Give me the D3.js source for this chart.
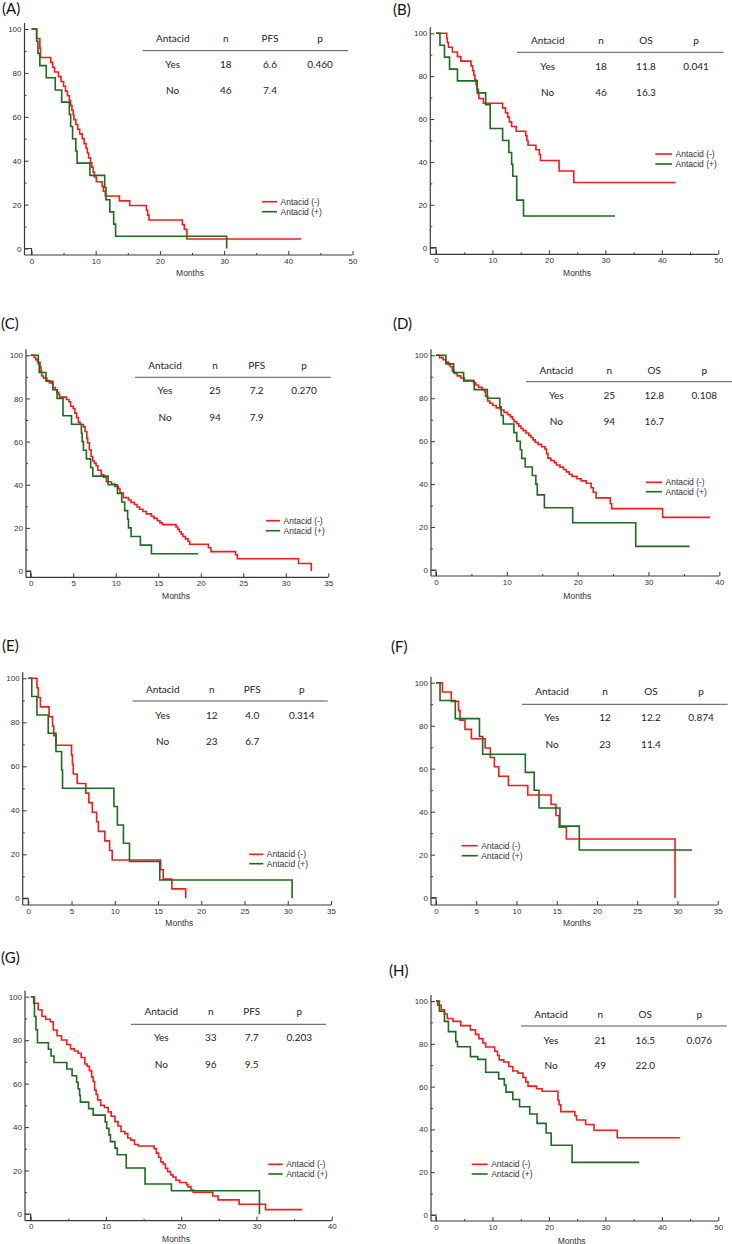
<!DOCTYPE html>
<html><head><meta charset="utf-8">
<script src="https://cdn.jsdelivr.net/npm/d3@7"></script>
<style>body{margin:0;background:#fff}svg{display:block}</style>
</head><body>
<svg id="chart" width="732" height="1244"></svg>
<script>
// ---------------- DATA ----------------
const panelLabels = ["(A)","(B)","(C)","(D)","(E)","(F)","(G)","(H)"];
const metrics = ["PFS","OS","PFS","OS","PFS","OS","PFS","OS"];
const headerCols = ["Antacid","n","METRIC","p"];
const yesRows = [
  ["Yes","18","6.6","0.460"],["Yes","18","11.8","0.041"],
  ["Yes","25","7.2","0.270"],["Yes","25","12.8","0.108"],
  ["Yes","12","4.0","0.314"],["Yes","12","12.2","0.874"],
  ["Yes","33","7.7","0.203"],["Yes","21","16.5","0.076"]];
const noRows = [
  ["No","46","7.4",""],["No","46","16.3",""],
  ["No","94","7.9",""],["No","94","16.7",""],
  ["No","23","6.7",""],["No","23","11.4",""],
  ["No","96","9.5",""],["No","49","22.0",""]];
const xMax = [50,50,35,40,35,35,40,50];
const xTickStep = [10,10,5,10,5,5,10,10];
const yTicks = [0,20,40,60,80,100];
const yMinorTicks = [10,30,50,70,90];
const xLabel = "Months";
const legendLabels = ["Antacid (-)","Antacid (+)"];

// Kaplan-Meier steps: [month, survival %]
const A_neg = [[0,100],[0.8,95.7],[1.3,91.3],[1.4,87.0],[3.0,84.8],[3.3,82.6],[3.6,80.4],[4.2,78.3],[4.6,76.1],[5.0,73.9],[5.3,71.7],[5.6,69.6],[5.9,67.4],[6.1,65.2],[6.3,63.0],[6.5,60.9],[6.6,58.7],[6.9,56.5],[7.2,54.3],[7.5,52.2],[7.9,50.0],[8.2,47.8],[8.5,45.7],[8.7,43.5],[8.9,41.3],[9.2,39.1],[9.4,37.0],[9.6,34.8],[9.8,32.6],[10.1,30.4],[11.0,28.3],[11.2,26.1],[11.5,23.9],[13.7,21.7],[15.3,19.6],[17.9,17.4],[18.1,15.2],[18.3,13.0],[23.5,10.9],[23.8,8.7],[24.2,4.3],[42.0,4.3]];
const A_pos = [[0,100],[0.8,94.4],[1.0,88.9],[1.3,83.3],[2.3,77.8],[3.7,72.2],[4.7,66.7],[5.9,61.1],[6.1,55.6],[6.4,50.0],[6.9,44.4],[7.1,38.9],[9.1,33.3],[11.4,27.8],[11.6,22.2],[12.2,16.7],[12.8,11.1],[13.1,5.6],[30.4,5.6],[30.4,0]];
const B_neg = [[0,100],[1.9,97.8],[2.0,95.7],[2.2,93.5],[2.9,91.3],[3.8,89.1],[4.4,87.0],[6.2,84.8],[6.5,82.6],[6.7,80.4],[6.9,78.3],[7.1,76.1],[7.3,73.9],[7.5,71.7],[7.6,69.6],[8.4,67.4],[11.8,65.2],[12.3,63.0],[12.7,60.9],[13.0,58.7],[13.4,56.5],[14.2,54.3],[15.9,52.2],[16.1,50.0],[16.3,47.8],[17.7,45.7],[18.3,43.5],[18.5,40.7],[21.8,35.8],[24.4,30.4],[42.4,30.4]];
const B_pos = [[0,100],[0.7,94.4],[1.5,88.9],[2.4,83.3],[3.8,77.8],[7.3,72.2],[8.8,66.7],[9.6,55.6],[11.8,50.0],[12.9,44.4],[13.4,38.9],[13.6,33.3],[14.3,22.2],[15.5,14.8],[31.7,14.8]];
const C_neg = [[0,100],[0.4,99],[0.6,98],[0.8,96.8],[1.1,94.7],[1.2,92.6],[1.3,90.4],[1.5,89.4],[1.9,88.3],[2.2,87.2],[2.6,85.1],[2.9,84.0],[3.1,82.9],[3.3,81.9],[3.4,80.6],[4.2,79.5],[4.5,78.5],[4.7,76.4],[5.0,75.3],[5.2,73.2],[5.4,71.1],[5.6,69.0],[5.8,67.9],[6.2,66.8],[6.4,64.7],[6.6,61.5],[6.7,59.4],[6.9,56.2],[7.1,53.1],[7.3,51.0],[7.5,49.9],[7.7,48.8],[7.9,46.7],[8.3,44.6],[8.6,43.5],[8.9,41.4],[9.5,40.3],[9.9,39.2],[10.3,38.2],[10.5,36.1],[10.9,34.0],[11.5,32.9],[11.8,31.8],[12.2,30.8],[12.5,29.7],[12.8,28.6],[13.2,27.6],[13.6,26.5],[14.2,25.4],[14.5,24.4],[14.9,23.3],[15.2,22.3],[15.5,21.5],[17.1,20.4],[17.3,19.3],[17.5,18.2],[17.7,17.1],[17.9,16.0],[18.2,14.9],[18.5,13.8],[18.7,12.4],[20.9,10.8],[21.2,9.0],[24.1,7.5],[24.3,5.7],[31.5,3.5],[33.0,3.5],[33.0,0]];
const C_pos = [[0,100],[0.9,96],[1.0,92],[1.8,88],[2.6,84],[3.1,80],[3.8,72],[4.8,68],[5.96,64],[6.05,60],[6.2,56],[6.55,52],[7.05,48],[7.3,44],[9.1,40],[10.2,36],[10.7,32],[11.05,28],[11.4,24],[11.5,20],[11.8,16],[12.9,12],[14.2,8],[19.7,8]];
const D_neg = [[0,100],[0.5,98.9],[1.0,97.9],[1.4,96.8],[1.8,95.7],[2.0,94.7],[2.3,92.6],[2.6,91.5],[3.0,90.4],[3.5,89.4],[4.0,88.3],[5.3,87.2],[5.6,86.2],[6.0,85.1],[6.5,84.0],[6.9,83.0],[7.0,80.9],[7.3,78.7],[7.6,77.7],[8.0,76.6],[8.5,75.5],[9.1,74.5],[9.6,73.4],[10.1,72.3],[10.5,71.3],[10.8,70.2],[11.0,69.1],[11.4,68.1],[11.7,67.0],[12.0,65.9],[12.3,64.9],[12.7,63.8],[13.1,62.7],[13.4,61.7],[13.7,60.6],[14.0,59.5],[14.4,58.5],[14.9,57.4],[15.4,56.3],[15.6,54.2],[15.8,52.1],[16.2,51.0],[16.7,50.0],[17.0,48.9],[17.5,47.9],[18.0,46.8],[18.4,45.7],[18.8,44.6],[19.2,43.6],[19.9,42.5],[20.5,41.5],[21.2,40.4],[21.9,38.3],[22.2,36.2],[22.6,33.6],[24.6,31.0],[24.8,28.6],[32.0,24.5],[38.7,24.5]];
const D_pos = [[0,100],[1.4,96],[2.5,92],[3.9,88],[5.4,84],[7.25,80],[9.0,76],[9.2,72],[9.5,68],[11.0,64],[11.4,60],[11.9,56],[12.1,52],[12.6,48],[13.6,44],[14.1,40],[14.3,35],[15.3,29],[19.3,22],[28.2,11],[35.8,11]];
const E_neg = [[0,100],[1.0,95.7],[1.15,91.3],[1.4,87.0],[2.4,82.6],[2.8,78.3],[2.95,73.9],[3.2,69.6],[5.0,65.2],[5.1,60.9],[5.2,56.5],[5.65,52.2],[6.65,47.8],[7.0,43.5],[7.4,39.1],[7.9,34.8],[8.1,30.4],[8.85,26.1],[9.4,21.7],[9.7,17.4],[15.3,13.0],[15.6,8.7],[16.6,4.3],[18.2,4.3],[18.2,0]];
const E_pos = [[0,100],[0.4,91.7],[1.0,83.3],[2.3,75.0],[3.2,66.7],[3.85,58.3],[3.96,50.0],[9.9,41.7],[10.3,33.3],[11.0,25.0],[11.7,16.7],[15.2,8.3],[30.5,8.3],[30.5,0]];
const F_neg = [[0,100],[0.8,95.7],[1.9,91.3],[2.8,87.0],[2.98,82.6],[3.6,78.3],[4.4,73.9],[6.1,69.6],[6.75,65.2],[7.25,60.9],[7.8,56.5],[9.0,52.2],[11.4,47.8],[14.3,43.5],[14.9,38.2],[15.3,32.8],[16.2,27.3],[29.7,27.3],[29.7,0]];
const F_pos = [[0,100],[0.5,91.7],[2.4,83.3],[5.4,75.0],[5.8,66.7],[11.1,58.3],[12.2,50.0],[12.8,41.7],[15.4,33.3],[17.8,22.2],[31.8,22.2]];
const G_neg = [[0,100],[0.5,97],[1.0,94],[1.5,91],[2.0,89.6],[2.6,88.5],[3.0,84.7],[3.5,82],[4.1,80.1],[4.8,78],[5.3,76],[5.8,75],[6.3,74],[6.7,72],[7.2,69],[7.5,68],[7.8,66],[8.1,63],[8.3,61],[8.5,57],[8.7,55],[8.9,52.5],[9.3,50],[9.8,49],[10.3,47],[10.7,45],[11.2,42.5],[11.6,40.5],[12.0,38],[12.5,37],[12.9,35],[13.3,34],[13.8,32],[14.3,31.3],[16.4,30],[16.7,28],[17.0,26],[17.3,24],[17.6,23],[17.9,21],[18.2,19.5],[18.6,18],[18.9,17],[19.3,15.5],[19.8,14.5],[20.7,13.5],[20.9,12.5],[21.3,11],[21.6,10],[24.2,8.3],[24.9,6.5],[27.7,4.5],[31.2,2],[36.1,2]];
const G_pos = [[0,100],[0.4,97.0],[0.5,90.9],[0.7,84.8],[0.9,78.8],[2.35,75.8],[2.7,72.7],[3.1,69.7],[4.8,66.7],[5.5,63.6],[6.1,60.6],[6.3,57.6],[6.5,54.5],[6.6,51.5],[7.7,48.5],[8.3,45.5],[9.9,42.4],[10.1,39.4],[10.4,36.4],[10.6,33.3],[11.2,30.3],[11.5,27.3],[12.7,21.2],[15.2,13.8],[18.7,10.7],[30.4,10.7],[30.4,0]];
const H_neg = [[0,100],[0.3,98.0],[0.9,95.9],[1.5,93.9],[2.0,91.8],[3.0,90.5],[4.4,88.5],[6.1,86.5],[7.0,84.4],[7.6,82.4],[8.3,80.4],[8.8,78.5],[10.4,76.5],[10.9,74.5],[11.2,72.5],[12.0,71.5],[12.9,69.4],[13.6,67.3],[14.5,66.3],[15.4,64.3],[15.9,62.2],[16.3,60.2],[17.8,59.0],[18.8,57.8],[21.6,53.6],[21.8,51.5],[22.1,48.3],[24.6,46.4],[24.9,44.4],[26.5,42.3],[28.0,39.6],[32.1,36.1],[43.2,36.1]];
const H_pos = [[0,100],[0.6,95.2],[1.5,90.5],[2.2,85.7],[3.5,81.0],[3.8,78.6],[6.1,74.0],[7.4,72.7],[8.8,66.7],[11.1,63.6],[12.1,60.7],[12.4,57.4],[13.6,54.0],[14.8,50.6],[16.6,47.2],[17.9,42.8],[19.5,38.3],[20.4,32.6],[24.1,24.6],[36.0,24.6]];

const negCurves = [A_neg,B_neg,C_neg,D_neg,E_neg,F_neg,G_neg,H_neg];
const posCurves = [A_pos,B_pos,C_pos,D_pos,E_pos,F_pos,G_pos,H_pos];

// ---------------- LAYOUT (pixels) ----------------
const layout = [
 {x0:31.5,x1:352.5,y100:29,y0:248.5,ax:24.5,ay:255,lab:[2,13.5],mo:[190,276],leg:[262,277,201.7,211.7],
  cols:[172.7,225.7,270,320],hy:38,ly:50.7,lx:[142.7,348.3],r1:64,r2:90},
 {x0:436,x1:718.3,y100:33.3,y0:247.7,ax:430.3,ay:254.3,lab:[393,15],mo:[577,276],leg:[655.3,672,154,164],
  cols:[547.7,601,646,696],hy:40.7,ly:52.3,lx:[517,723.3],r1:66.3,r2:92.3},
 {x0:30.7,x1:328.3,y100:355.3,y0:571,ax:26,ay:577.3,lab:[1,329],mo:[176,598.7],leg:[266,280,520.7,530.7],
  cols:[165,215,256.7,304],hy:365,ly:377.3,lx:[135,330.7],r1:390.7,r2:417.3},
 {x0:436,x1:719.3,y100:355.3,y0:570,ax:431,ay:576,lab:[393,329],mo:[577.3,598.7],leg:[646,662,482.3,491.7],
  cols:[556.3,609.3,654.3,704.3],hy:370,ly:381.7,lx:[526,732],r1:395.7,r2:421.7},
 {x0:28.3,x1:331,y100:678.3,y0:898.3,ax:22.7,ay:905,lab:[2,651],mo:[179.3,926.3],leg:[249.3,263.3,854.3,863.7],
  cols:[162.7,211.7,252.3,301.7],hy:689.3,ly:701,lx:[132.7,327.7],r1:715,r2:741},
 {x0:436,x1:717.7,y100:682.7,y0:897.7,ax:431,ay:905,lab:[391,652],mo:[577,926.3],leg:[461.7,477.7,845.7,855.7],
  cols:[552,605,651,701],hy:691.7,ly:704.3,lx:[522,727.7],r1:717.7,r2:744},
 {x0:30.7,x1:331.7,y100:996.7,y0:1214,ax:25,ay:1220.7,lab:[1,962.5],mo:[176,1242],leg:[268.3,282.7,1164.3,1174],
  cols:[161.3,210.7,251.7,299.3],hy:1011.7,ly:1024.3,lx:[131,326],r1:1037.3,r2:1064},
 {x0:436,x1:718.3,y100:1001,y0:1215,ax:431,ay:1221,lab:[389,976],mo:[571.7,1243.5],leg:[471.7,487.7,1164.3,1174],
  cols:[551,600.3,645.3,699.3],hy:1014,ly:1026,lx:[521,726.7],r1:1040,r2:1065.7}
];

const RED = "#f21c1c", GREEN = "#1e6a1e", AXIS = "#3a3a3a", TXT = "#222";
const tickFont = "'Liberation Sans', Arial, sans-serif";
const tableFont = "Lato, 'Open Sans', sans-serif";

const svg = d3.select("#chart");
svg.append("rect").attr("width",732).attr("height",1244).attr("fill","#fff");

layout.forEach((L, i) => {
  const g = svg.append("g");
  const x = d3.scaleLinear().domain([0, xMax[i]]).range([L.x0, L.x1]);
  const y = d3.scaleLinear().domain([0, 100]).range([L.y0, L.y100]);

  // axis lines
  g.append("line").attr("x1",L.ax).attr("x2",L.ax).attr("y1",L.ay).attr("y2",L.y100-6)
    .attr("stroke",AXIS).attr("stroke-width",1.2);
  g.append("line").attr("x1",L.ax).attr("x2",L.x1).attr("y1",L.ay).attr("y2",L.ay)
    .attr("stroke",AXIS).attr("stroke-width",1.2);

  // x axis (major)
  const xt = d3.range(0, xMax[i] + 0.001, xTickStep[i]);
  const xAxis = g.append("g").attr("transform",`translate(0,${L.ay})`)
    .call(d3.axisBottom(x).tickValues(xt).tickSize(-4).tickSizeOuter(0).tickPadding(3));
  // x minor
  if (xTickStep[i] === 10) {
    const xm = d3.range(5, xMax[i], 10);
    g.append("g").attr("transform",`translate(0,${L.ay})`)
      .call(d3.axisBottom(x).tickValues(xm).tickSize(-2).tickSizeOuter(0).tickFormat(""))
      .call(a => a.select(".domain").remove());
  }
  // y axis
  const yAxis = g.append("g").attr("transform",`translate(${L.ax},0)`)
    .call(d3.axisLeft(y).tickValues(yTicks).tickSize(-4).tickSizeOuter(0).tickPadding(3));
  g.append("g").attr("transform",`translate(${L.ax},0)`)
    .call(d3.axisLeft(y).tickValues(yMinorTicks).tickSize(-2).tickSizeOuter(0).tickFormat(""))
    .call(a => a.select(".domain").remove());
  [xAxis, yAxis].forEach(a => {
    a.select(".domain").remove();
    a.selectAll("text").attr("font-family",tickFont).attr("font-size",8).attr("fill","#333");
  });
  g.selectAll(".tick line").attr("stroke",AXIS);
  // origin corner (0 ticks reaching the data origin)
  g.append("path").attr("d",`M${L.ax},${y(0)}H${x(0)}V${L.ay}`)
    .attr("fill","none").attr("stroke",AXIS).attr("stroke-width",1.2);

  // axis title
  g.append("text").attr("x",L.mo[0]).attr("y",L.mo[1]).attr("text-anchor","middle")
    .attr("font-family",tickFont).attr("font-size",8.5).attr("fill","#333").text(xLabel);

  // curves
  const line = d3.line().x(d => x(d[0])).y(d => y(d[1])).curve(d3.curveStepAfter);
  g.append("path").datum(negCurves[i]).attr("d",line).attr("fill","none")
    .attr("stroke",RED).attr("stroke-width",1.6);
  g.append("path").datum(posCurves[i]).attr("d",line).attr("fill","none")
    .attr("stroke",GREEN).attr("stroke-width",1.6);

  // legend
  [[RED, L.leg[2], legendLabels[0]], [GREEN, L.leg[3], legendLabels[1]]].forEach(([c, ly, t]) => {
    g.append("line").attr("x1",L.leg[0]).attr("x2",L.leg[1]).attr("y1",ly).attr("y2",ly)
      .attr("stroke",c).attr("stroke-width",1.6);
    g.append("text").attr("x",L.leg[1]+3.5).attr("y",ly+3).attr("font-family",tickFont)
      .attr("font-size",8.5).attr("fill","#333").text(t);
  });

  // table
  const hdr = headerCols.map(h => h === "METRIC" ? metrics[i] : h);
  const rows = [[hdr, L.hy], [yesRows[i], L.r1], [noRows[i], L.r2]];
  rows.forEach(([cells, cy]) => {
    cells.forEach((t, j) => {
      g.append("text").attr("x",L.cols[j]).attr("y",cy+3.6).attr("text-anchor","middle")
        .attr("font-family",tableFont).attr("font-size",10).attr("fill",TXT).text(t);
    });
  });
  g.append("line").attr("x1",L.lx[0]).attr("x2",L.lx[1]).attr("y1",L.ly).attr("y2",L.ly)
    .attr("stroke","#555").attr("stroke-width",1);

  // panel label
  g.append("text").attr("x",L.lab[0]).attr("y",L.lab[1]).attr("font-family",tableFont)
    .attr("font-size",15).attr("fill","#111").text(panelLabels[i]);
});
</script>
</body></html>
